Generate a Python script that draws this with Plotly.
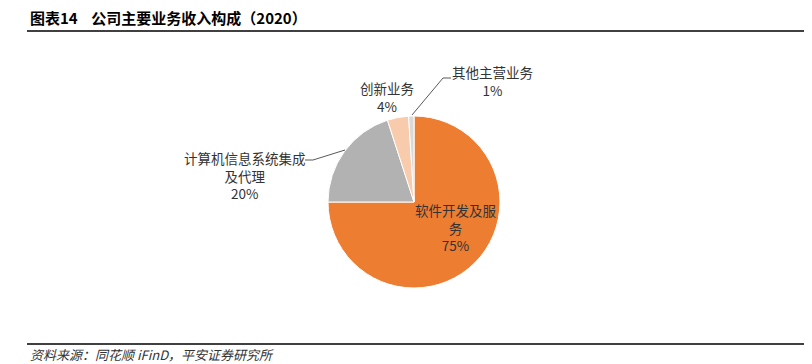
import plotly.graph_objects as go

# ---- data ----
categories = ["软件开发及服务", "计算机信息系统集成及代理", "创新业务", "其他主营业务"]
display_labels = ["软件开发及服<br>务", "计算机信息系统集成<br>及代理", "创新业务", "其他主营业务"]
values = [75, 20, 4, 1]
colors = ["#ED7D31", "#B2B2B2", "#F8CBAD", "#D9D9D9"]

title_text = "图表14    公司主要业务收入构成（2020）"
source_text = "资料来源：同花顺 iFinD，平安证券研究所"

# page has an 8px body margin; figure sized to fit the 812x364 window
OFF = 8
W, H = 812 - OFF, 364 - OFF
def px(x):
    return (x - OFF) / W
def py(y):
    return 1 - (y - OFF) / H

FONT = "Noto Sans CJK SC, Arial, sans-serif"

cx, cy, r = 414, 202, 86

fig = go.Figure(go.Pie(
    labels=categories,
    values=values,
    sort=False,
    direction="clockwise",
    rotation=0,
    marker=dict(colors=colors, line=dict(color="white", width=1)),
    textinfo="none",
    hoverinfo="label+percent",
    showlegend=False,
    domain=dict(x=[px(cx - r), px(cx + r)], y=[py(cy + r), py(cy - r)]),
))

total = sum(values)
pct = [f"{v / total * 100:.0f}%" for v in values]

# label anchor positions (pixels in window)
label_pos = [(456, 227), (245, 175), (387, 97), (492, 81)]
annotations = []
for lbl, p, (x, y) in zip(display_labels, pct, label_pos):
    annotations.append(dict(
        x=px(x), y=py(y), xref="paper", yref="paper",
        text=f"{lbl}<br>{p}", showarrow=False, align="center",
        xanchor="center", yanchor="middle",
        font=dict(family=FONT, size=13.5, color="#333333"),
    ))

annotations.append(dict(
    x=px(28), y=py(18), xref="paper", yref="paper", text="<b>" + title_text + "</b>",
    showarrow=False, xanchor="left", yanchor="middle",
    font=dict(family=FONT, size=15, color="#000000"),
))
annotations.append(dict(
    x=px(28), y=py(354), xref="paper", yref="paper", text="<i>" + source_text + "</i>",
    showarrow=False, xanchor="left", yanchor="middle",
    font=dict(family=FONT, size=13, color="#333333"),
))

shapes = [
    dict(type="line", xref="paper", yref="paper", x0=px(27), x1=1, y0=py(31), y1=py(31),
         line=dict(color="#000000", width=1.5)),
    dict(type="line", xref="paper", yref="paper", x0=px(27), x1=1, y0=py(344), y1=py(344),
         line=dict(color="#000000", width=1.5)),
    # leader lines
    dict(type="path", xref="paper", yref="paper",
         path=f"M {px(451)} {py(78)} L {px(443)} {py(78)} L {px(412)} {py(115)}",
         line=dict(color="#595959", width=1)),
    dict(type="path", xref="paper", yref="paper",
         path=f"M {px(305)} {py(160)} L {px(313)} {py(160)} L {px(345)} {py(150)}",
         line=dict(color="#595959", width=1)),
]

fig.update_layout(
    width=W, height=H,
    margin=dict(l=0, r=0, t=0, b=0),
    paper_bgcolor="white", plot_bgcolor="white",
    annotations=annotations, shapes=shapes,
)

fig.write_html("out.html")
